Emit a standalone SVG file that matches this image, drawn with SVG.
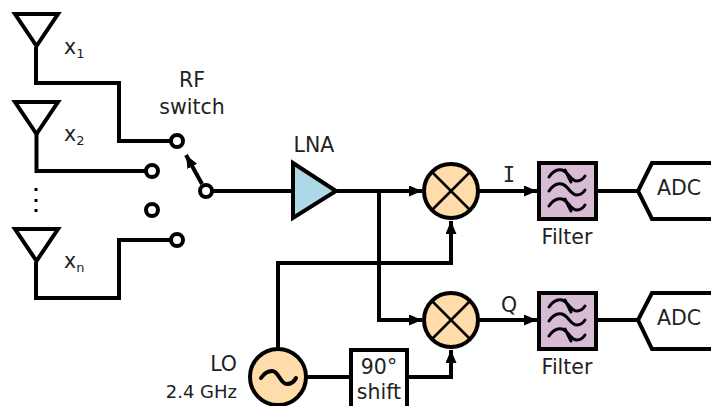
<svg xmlns="http://www.w3.org/2000/svg" width="711" height="406" viewBox="0 0 711 406">
<style>
text{font-family:"DejaVu Sans",sans-serif;font-size:20.500px;fill:#222}
.m{text-anchor:middle}
.e{text-anchor:end}
.sub{font-size:13px}
.w{fill:none;stroke:#000;stroke-width:4;stroke-linejoin:miter}
.thin{fill:none;stroke:#000;stroke-width:2.500}
.port{fill:#fff;stroke:#000;stroke-width:4}
.ant{fill:#fff;stroke:#000;stroke-width:4}
.mix{fill:#ffdcaa;stroke:#000;stroke-width:4}
.flt{fill:#d8bcd6;stroke:#000;stroke-width:4}
.wv{fill:none;stroke:#000;stroke-width:3;stroke-linecap:round}
</style>
<defs>
<marker id="ah" markerUnits="userSpaceOnUse" markerWidth="14" markerHeight="12" refX="13" refY="5.500" orient="auto"><path d="M0 0L13 5.500L0 11z" fill="#000"/></marker>
<path id="wave" class="wv" d="M549 177C553 171 558 169 562 170C569 172 570 181 577 181C581 181 583 179 585 176M549 191C553 185 558 183 562 184C569 186 570 195 577 195C581 195 583 193 585 190M549 206C553 200 558 198 562 199C569 201 570 210 577 210C581 210 583 208 585 205M565 170L571 182M565 199L571 211"/>
</defs>
<g id="connectors">
<path class="w" d="M36 47V83H119V141H171"/>
<path class="w" d="M36.500 134V171H146"/>
<path class="w" d="M36 262V298H119V240H171"/>
<path class="w" d="M212 191H293"/>
<path class="w" d="M336 191H422" marker-end="url(#ah)"/>
<path class="w" d="M379 191V320H422" marker-end="url(#ah)"/>
<path class="w" d="M278 349V263H451V221" marker-end="url(#ah)"/>
<path class="w" d="M306 377H351"/>
<path class="w" d="M407 377H451V350" marker-end="url(#ah)"/>
<path class="w" d="M478 191H537" marker-end="url(#ah)"/>
<path class="w" d="M478 320H537" marker-end="url(#ah)"/>
<path class="w" d="M595 191H639"/>
<path class="w" d="M595 320H639"/>
<path class="w" d="M202 184L186 155" marker-end="url(#ah)"/>
</g>
<g id="ant1"><path class="ant" d="M15 14H58L36.500 46z"/><text x="64" y="54">x<tspan class="sub" dy="4">1</tspan></text></g>
<g id="ant2"><path class="ant" d="M15 102H58L36.500 134z"/><text x="64" y="141">x<tspan class="sub" dy="4">2</tspan></text></g>
<g id="dots"><rect x="34.500" y="188" width="3" height="3"/><rect x="34.500" y="199" width="3" height="3"/><rect x="34.500" y="209" width="3" height="3"/></g>
<g id="antn"><path class="ant" d="M15 229H58L36.500 261z"/><text x="64" y="268">x<tspan class="sub" dy="4">n</tspan></text></g>
<g id="switch">
<circle class="port" cx="177" cy="141" r="6"/><circle class="port" cx="152" cy="171" r="6"/><circle class="port" cx="152" cy="210" r="6"/><circle class="port" cx="177" cy="240" r="6"/><circle class="port" cx="206" cy="191" r="6"/>
<text class="m" x="192" y="87">RF</text><text class="m" x="192" y="114">switch</text>
</g>
<g id="lna"><path d="M293 163V218L336 191z" fill="#add8e6" stroke="#000" stroke-width="4"/><text class="m" x="314" y="152">LNA</text></g>
<g id="mixer1"><circle class="mix" cx="451" cy="191" r="27"/><path class="thin" d="M431 171L471 211M471 171L431 211"/></g>
<g id="mixer2"><circle class="mix" cx="451" cy="320" r="27"/><path class="thin" d="M431 300L471 340M471 300L431 340"/></g>
<g id="lo"><circle class="mix" cx="278" cy="377" r="28"/><path d="M261 378C265 372 269 371 272 371C279 371 280 384 287 384C291 384 294 382 296 378" fill="none" stroke="#000" stroke-width="4" stroke-linecap="round"/><text class="e" x="237" y="371">LO</text><text class="e" x="237" y="398" style="font-size:18px">2.4 GHz</text></g>
<g id="shift"><path fill="#fff" stroke="#000" stroke-width="4" d="M351 408V350H407V408"/><text class="m" x="379" y="374">90°</text><text class="m" x="379" y="399">shift</text></g>
<g id="filter1"><rect class="flt" x="539" y="163" width="57" height="56"/><use href="#wave"/><text class="m" x="567" y="244">Filter</text></g>
<g id="filter2"><rect class="flt" x="539" y="293" width="57" height="56"/><use href="#wave" y="130"/><text class="m" x="567" y="374">Filter</text></g>
<g id="adc1"><path class="port" d="M713 163H652L638 191L652 219H713"/><text class="m" x="679" y="195">ADC</text></g>
<g id="adc2"><path class="port" d="M713 293H652L638 320L652 349H713"/><text class="m" x="679" y="325">ADC</text></g>
<g id="labels"><text class="m" x="509" y="182" style="font-family:'DejaVu Sans Mono',monospace">I</text><text class="m" x="509" y="312">Q</text></g>
</svg>
